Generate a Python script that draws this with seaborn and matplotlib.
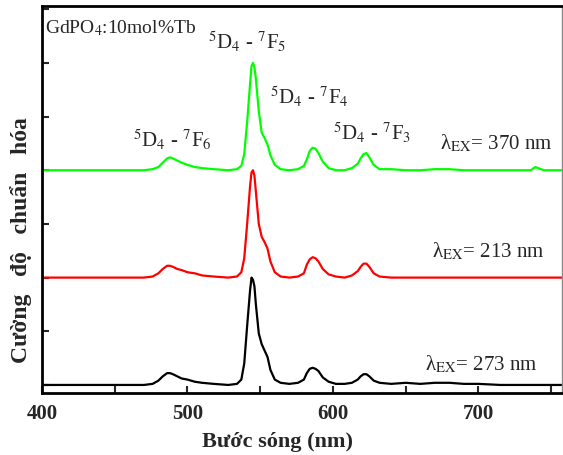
import numpy as np
import pandas as pd
import matplotlib
matplotlib.use("Agg")
import matplotlib.pyplot as plt
import seaborn as sns
from matplotlib.ticker import MultipleLocator

# --- DATA (normalised PL spectra) ---
wavelength = [
    400, 470, 476, 480, 483, 486, 488, 490, 493, 496,
    500, 505, 510, 518, 528, 534, 537, 539, 541, 543,
    544, 545, 546, 547, 549, 551, 553, 555, 557, 560,
    564, 570, 576, 580, 582, 584, 586, 588, 590, 593,
    597, 602, 608, 613, 617, 619, 621, 623, 625, 628,
    632, 640, 650, 660, 670, 680, 690, 700, 715, 730,
    736, 739, 741, 745, 757,
]
ex_370 = [
    0.00, 0.00, 0.01, 0.03, 0.07, 0.11, 0.12, 0.11, 0.09, 0.07,
    0.05, 0.03, 0.02, 0.01, 0.00, 0.01, 0.04, 0.15, 0.45, 0.80,
    0.97, 1.00, 0.96, 0.85, 0.55, 0.35, 0.30, 0.24, 0.14, 0.05,
    0.01, 0.00, 0.01, 0.04, 0.10, 0.18, 0.21, 0.20, 0.16, 0.08,
    0.02, 0.00, 0.00, 0.02, 0.06, 0.11, 0.15, 0.16, 0.12, 0.05,
    0.01, 0.01, 0.00, 0.00, 0.01, 0.01, 0.00, 0.00, 0.00, 0.00,
    0.00, 0.03, 0.02, 0.00, 0.00,
]
ex_213 = [
    0.00, 0.00, 0.01, 0.04, 0.08, 0.11, 0.11, 0.10, 0.08, 0.07,
    0.05, 0.04, 0.02, 0.01, 0.00, 0.01, 0.05, 0.18, 0.50, 0.85,
    0.98, 1.00, 0.95, 0.80, 0.50, 0.38, 0.33, 0.27, 0.15, 0.05,
    0.01, 0.00, 0.01, 0.04, 0.12, 0.17, 0.19, 0.18, 0.15, 0.08,
    0.03, 0.01, 0.00, 0.02, 0.06, 0.10, 0.13, 0.13, 0.10, 0.04,
    0.01, 0.00, 0.00, 0.00, 0.00, 0.00, 0.00, 0.00, 0.00, 0.00,
    0.00, 0.00, 0.00, 0.00, 0.00,
]
ex_273 = [
    0.00, 0.00, 0.01, 0.04, 0.08, 0.11, 0.11, 0.10, 0.08, 0.06,
    0.05, 0.03, 0.02, 0.01, 0.00, 0.01, 0.05, 0.20, 0.55, 0.88,
    1.00, 0.98, 0.92, 0.75, 0.48, 0.38, 0.32, 0.26, 0.14, 0.05,
    0.02, 0.01, 0.02, 0.05, 0.11, 0.15, 0.16, 0.15, 0.13, 0.07,
    0.03, 0.01, 0.01, 0.02, 0.05, 0.08, 0.10, 0.10, 0.08, 0.04,
    0.02, 0.01, 0.02, 0.01, 0.02, 0.02, 0.01, 0.01, 0.00, 0.00,
    0.00, 0.00, 0.00, 0.00, 0.00,
]
x_ticks = [400, 500, 600, 700]

# --- STYLE ---
sns.set_style("ticks")
plt.rcParams["font.family"] = ["Liberation Serif", "DejaVu Serif"]
plt.rcParams["mathtext.fontset"] = "stix"

fig = plt.figure(figsize=(5.63, 4.55), dpi=100)
ax = fig.add_axes([42 / 563, 62 / 455, 520 / 563, 387 / 455])

# stacked spectra: black at 0, red shifted by 1, green by 2
series = [(ex_273, 0.0, "black"), (ex_213, 1.0, "#ff0000"), (ex_370, 2.0, "#00ff00")]
for vals, shift, col in series:
    df = pd.DataFrame({"wl": wavelength, "I": np.array(vals) + shift})
    sns.lineplot(data=df, x="wl", y="I", color=col, lw=1.6, ax=ax,
                 estimator=None, sort=False)

ax.set_xlim(400, 757.4)
ax.set_ylim(-0.075, 3.53)
ax.xaxis.set_major_locator(plt.FixedLocator(x_ticks))
ax.xaxis.set_minor_locator(MultipleLocator(50))
ax.yaxis.set_major_locator(MultipleLocator(0.5))
ax.set_yticklabels([])
ax.tick_params(axis="x", which="both", direction="in", length=5, width=1.5,
               labelsize=15, pad=8)
ax.tick_params(axis="y", direction="in", length=5, width=1.5)
for lab in ax.get_xticklabels():
    lab.set_fontweight("bold")

for side in ["left", "bottom", "top"]:
    ax.spines[side].set_linewidth(2)
    ax.spines[side].set_color("black")
ax.spines["right"].set_linewidth(1)
ax.spines["right"].set_color("#888888")

ax.set_xlabel("Bước sóng (nm)", fontsize=16, fontweight="bold")
ax.set_ylabel("Cường   độ   chuẩn   hóa", fontsize=17, fontweight="bold")
ax.xaxis.set_label_coords(0.452, -0.10)
ax.yaxis.set_label_coords(-0.02, 0.395)

# --- annotations ---
ax.text(402, 3.32, r"GdPO$_4$:10mol%Tb", fontsize=14, va="center")
ax.text(514, 3.19, r"$^5$D$_4$ - $^7$F$_5$", fontsize=15, va="center")
ax.text(462.5, 2.28, r"$^5$D$_4$ - $^7$F$_6$", fontsize=15, va="center")
ax.text(556.7, 2.68, r"$^5$D$_4$ - $^7$F$_4$", fontsize=15, va="center")
ax.text(600, 2.35, r"$^5$D$_4$ - $^7$F$_3$", fontsize=15, va="center")
ax.text(673.5, 2.25, r"λ$_{\rm EX}$= 370 nm", fontsize=15, va="center")
ax.text(668, 1.24, r"λ$_{\rm EX}$= 213 nm", fontsize=15, va="center")
ax.text(663, 0.19, r"λ$_{\rm EX}$= 273 nm", fontsize=15, va="center")

fig.savefig("out.png", dpi=100)
